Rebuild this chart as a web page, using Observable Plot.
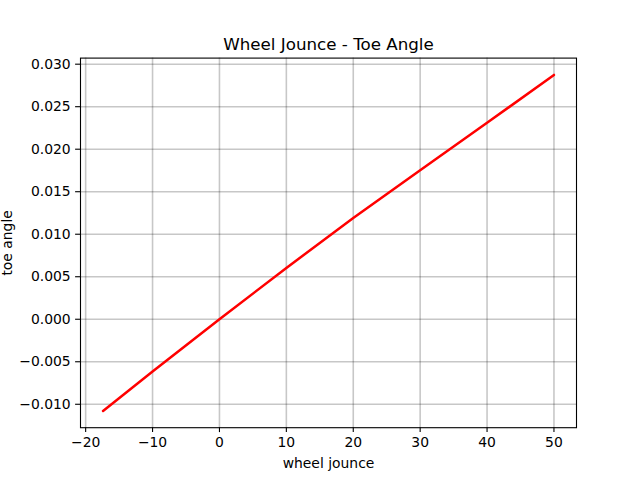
<!DOCTYPE html>
<html>
<head>
<meta charset="utf-8">
<script src="https://cdn.jsdelivr.net/npm/d3@7"></script>
<script src="https://cdn.jsdelivr.net/npm/@observablehq/plot@0.6"></script>
<style>
  html, body { margin: 0; padding: 0; background: #fff; }
</style>
</head>
<body>
<div id="chart"></div>
<script>
const jounce = [-17.4, -10, 0, 10, 20, 30, 40, 50];
const toe = [-0.01078, -0.00615, 0.0, 0.00603, 0.01192, 0.01753, 0.0231, 0.02874];
const xTicks = [-20, -10, 0, 10, 20, 30, 40, 50];
const yTicks = [-0.010, -0.005, 0.000, 0.005, 0.010, 0.015, 0.020, 0.025, 0.030];
const title = "Wheel Jounce - Toe Angle";
const xLabel = "wheel jounce";
const yLabel = "toe angle";

const data = jounce.map((x, i) => ({x, y: toe[i]}));

const xMin = d3.min(jounce), xMax = d3.max(jounce);
const yMin = d3.min(toe), yMax = d3.max(toe);
const xPad = (xMax - xMin) * 0.05, yPad = (yMax - yMin) * 0.05;

const fmtX = d => (d < 0 ? "\u2212" : "") + Math.abs(d);
const fmtY = d3.format(".3f");

const chart = Plot.plot({
  width: 640,
  height: 480,
  marginLeft: 80,
  marginRight: 64,
  marginTop: 57.6,
  marginBottom: 52.8,
  style: {fontFamily: "DejaVu Sans", fontSize: "13.9px", background: "white", color: "black"},
  x: {domain: [xMin - xPad, xMax + xPad]},
  y: {domain: [yMin - yPad, yMax + yPad]},
  marks: [
    Plot.gridX(xTicks, {stroke: "black", strokeOpacity: 0.22, strokeWidth: 1.6}),
    Plot.gridY(yTicks, {stroke: "black", strokeOpacity: 0.22, strokeWidth: 1.6}),
    Plot.line(data, {x: "x", y: "y", stroke: "red", strokeWidth: 2.5}),
    Plot.frame({stroke: "black", strokeWidth: 1.1}),
    Plot.axisX({ticks: xTicks, tickFormat: fmtX, tickSize: 4.9, tickPadding: 4.9, strokeWidth: 1.1, label: null, fontSize: 13.9}),
    Plot.axisY({ticks: yTicks, tickFormat: fmtY, tickSize: 4.9, tickPadding: 4.9, strokeWidth: 1.1, label: null, fontSize: 13.9}),
    Plot.text([title], {frameAnchor: "top", dy: -8.3, lineAnchor: "bottom", fontSize: 16.7, fill: "black"}),
    Plot.text([xLabel], {frameAnchor: "bottom", dy: 35.5, lineAnchor: "middle", fontSize: 13.9, fill: "black"}),
    Plot.text([yLabel], {frameAnchor: "left", dx: -73, rotate: -90, textAnchor: "middle", lineAnchor: "middle", fontSize: 13.9, fill: "black"})
  ]
});
document.getElementById("chart").appendChild(chart);
</script>
</body>
</html>
